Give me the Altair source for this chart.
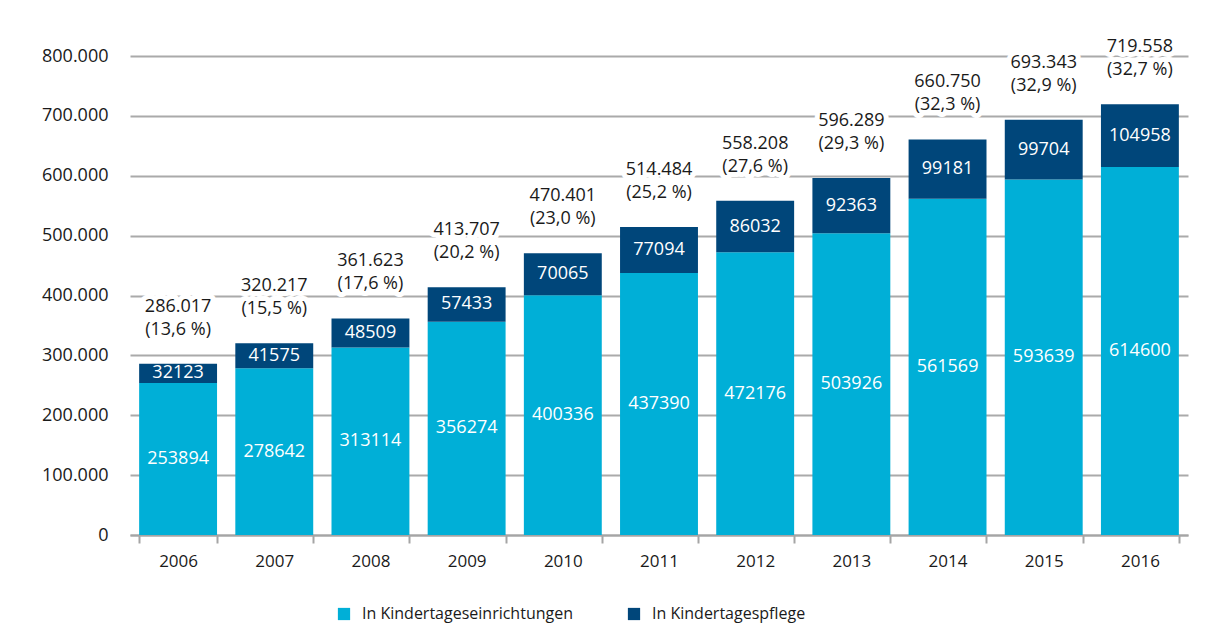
import altair as alt
import pandas as pd

years = ["2006", "2007", "2008", "2009", "2010", "2011", "2012", "2013", "2014", "2015", "2016"]
einrichtungen = [253894, 278642, 313114, 356274, 400336, 437390, 472176, 503926, 561569, 593639, 614600]
pflege = [32123, 41575, 48509, 57433, 70065, 77094, 86032, 92363, 99181, 99704, 104958]
quote = ["13,6", "15,5", "17,6", "20,2", "23,0", "25,2", "27,6", "29,3", "32,3", "32,9", "32,7"]
series = ["In Kindertageseinrichtungen", "In Kindertagespflege"]
colors = ["#00afd7", "#00467a"]

FONT = "Open Sans"

rows = []
for i, y in enumerate(years):
    rows.append({"year": y, "series": series[0], "order": 0, "value": einrichtungen[i],
                 "mid": einrichtungen[i] / 2})
    rows.append({"year": y, "series": series[1], "order": 1, "value": pflege[i],
                 "mid": einrichtungen[i] + pflege[i] / 2})
df = pd.DataFrame(rows)


def de(n):
    return f"{n:,}".replace(",", ".")


tot = pd.DataFrame({
    "year": years,
    "total": [e + p for e, p in zip(einrichtungen, pflege)],
})
tot["label"] = [de(t) + "\n(" + q + " %)" for t, q in zip(tot["total"], quote)]

xenc = alt.X("year:N", title=None, sort=years,
             scale=alt.Scale(paddingInner=0.19, paddingOuter=0.095),
             axis=alt.Axis(labelAngle=0, labelFont=FONT, labelFontSize=17, labelColor="#1a1a1a",
                           domainColor="#a5a5a5", domainWidth=2, tickColor="#a5a5a5", tickWidth=2,
                           tickSize=8, tickBand="extent", labelPadding=10, grid=False))

bars = alt.Chart(df).mark_bar().encode(
    x=xenc,
    y=alt.Y("value:Q", stack="zero", title=None,
            scale=alt.Scale(domain=[0, 800000], nice=False),
            axis=alt.Axis(values=list(range(0, 800001, 100000)),
                          labelExpr="replace(format(datum.value, ','), ',', '.')",
                          labelFont=FONT, labelFontSize=18, labelColor="#1a1a1a",
                          labelPadding=22, domain=False, ticks=False,
                          gridColor="#aaaaaa", gridWidth=2)),
    color=alt.Color("series:N", sort=series,
                    scale=alt.Scale(domain=series, range=colors),
                    legend=alt.Legend(title=None, orient="none", direction="horizontal",
                                      legendX=206, legendY=550, symbolType="square",
                                      symbolSize=150, symbolStrokeWidth=0,
                                      labelFont=FONT, labelFontSize=16, labelColor="#1a1a1a",
                                      labelOffset=10, columnPadding=53, labelLimit=400)),
    order=alt.Order("order:Q"),
)

seglabels = alt.Chart(df).mark_text(color="white", font=FONT, fontSize=18, baseline="middle").encode(
    x=alt.X("year:N", sort=years),
    y=alt.Y("mid:Q"),
    text=alt.Text("value:Q", format="d"),
)

halo = alt.Chart(tot).mark_text(font=FONT, fontSize=18, baseline="bottom", lineBreak="\n",
                                lineHeight=23, dy=-48, color="white", stroke="white",
                                strokeWidth=10, strokeJoin="round").encode(
    x=alt.X("year:N", sort=years),
    y=alt.Y("total:Q"),
    text="label:N",
)

totlabels = alt.Chart(tot).mark_text(font=FONT, fontSize=18, baseline="bottom", lineBreak="\n",
                                     lineHeight=23, dy=-48, color="#1a1a1a").encode(
    x=alt.X("year:N", sort=years),
    y=alt.Y("total:Q"),
    text="label:N",
)

chart = alt.layer(bars, seglabels, halo, totlabels).properties(
    width=1058, height=479,
    autosize=alt.AutoSizeParams(type="none"),
    padding={"left": 122, "top": 48, "right": 9, "bottom": 91},
).configure_view(stroke=None)

chart.save("out.html", embed_options={"renderer": "svg", "actions": False})
